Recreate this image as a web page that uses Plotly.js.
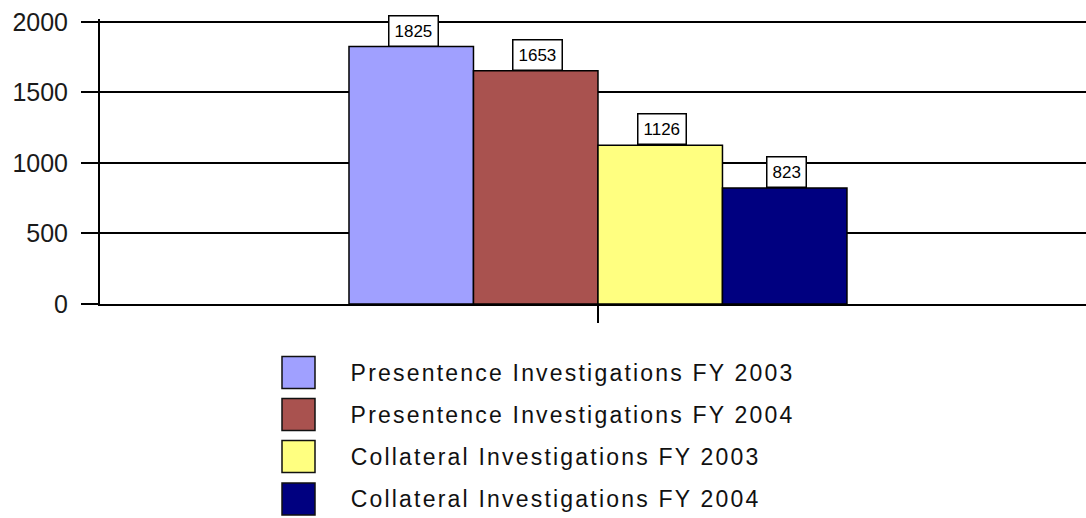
<!DOCTYPE html>
<html>
<head>
<meta charset="utf-8">
<script src="https://cdn.plot.ly/plotly-3.0.1.min.js"></script>
<style>
  html, body { margin: 0; padding: 0; background: #ffffff; overflow: hidden; }
  #chart { width: 1086px; height: 518px; }
</style>
</head>
<body>
<div id="chart"></div>
<script>
// ---- data ----
const categories = ["Investigations"];
const seriesNames = [
  "Presentence Investigations FY 2003",
  "Presentence Investigations FY 2004",
  "Collateral Investigations FY 2003",
  "Collateral Investigations FY 2004"
];
const seriesValues = [1825, 1653, 1126, 823];
const seriesColors = ["#A0A0FF", "#A9524F", "#FFFF80", "#000080"];
const yTickValues = [0, 500, 1000, 1500, 2000];

// ---- layout constants ----
const W = 1086, H = 518;
const M = { l: 100, r: 0, t: 19, b: 214 };
const plotW = W - M.l - M.r;
const plotH = H - M.t - M.b;
const xRange = [-0.5, 0.49];
const yRange = [0, 2020];
const bargap = 0.5;
const pxPerUnit = plotW / (xRange[1] - xRange[0]);
const barW = (1 - bargap) / seriesValues.length;
const legendLetterSpacing = 2.2;

const FONT = "Liberation Sans, Arial, sans-serif";

const traces = seriesNames.map((name, i) => ({
  type: "bar",
  name: name,
  x: categories,
  y: [seriesValues[i]],
  marker: { color: seriesColors[i], line: { color: "#000000", width: 1.5 } },
  hoverinfo: "none",
  showlegend: false
}));

// value labels above bars
const annotations = seriesValues.map((v, i) => ({
  x: categories[0], y: v, xref: "x", yref: "y",
  xshift: (i - (seriesValues.length - 1) / 2) * barW * pxPerUnit + 2,
  text: String(v),
  showarrow: false,
  yanchor: "bottom",
  font: { family: FONT, size: 17, color: "#000000" },
  bgcolor: "#ffffff",
  bordercolor: "#000000",
  borderwidth: 1.5,
  borderpad: 5
}));
const nValueLabels = annotations.length;

// custom legend below the plot
const shapes = [];
const px2paperX = px => (px - M.l) / plotW;
const px2paperY = py => (H - M.b - py) / plotH;
const legendRowY = [372.5, 414.5, 456.5, 499];
const swX0 = 282, swX1 = 315, swH = 32, textX = 349;
seriesNames.forEach((name, i) => {
  const cy = legendRowY[i];
  shapes.push({
    type: "rect", xref: "paper", yref: "paper",
    x0: px2paperX(swX0), x1: px2paperX(swX1),
    y0: px2paperY(cy + swH / 2), y1: px2paperY(cy - swH / 2),
    fillcolor: seriesColors[i],
    line: { color: "#111111", width: 1.5 }
  });
  annotations.push({
    xref: "paper", yref: "paper",
    x: px2paperX(textX), y: px2paperY(cy),
    xshift: legendLetterSpacing * name.length / 2,
    xanchor: "left", yanchor: "middle",
    text: name, showarrow: false,
    font: { family: FONT, size: 23, color: "#111111" }
  });
});

const layout = {
  width: W, height: H,
  margin: M,
  paper_bgcolor: "#ffffff",
  plot_bgcolor: "#ffffff",
  barmode: "group",
  bargap: bargap,
  bargroupgap: 0,
  showlegend: false,
  font: { family: FONT, color: "#000000" },
  xaxis: {
    type: "category",
    range: xRange,
    showline: true, linecolor: "#000000", linewidth: 2,
    ticks: "outside", ticklen: 17, tickwidth: 1.5, tickcolor: "#000000",
    showticklabels: false,
    showgrid: false, zeroline: false,
    fixedrange: true
  },
  yaxis: {
    range: yRange,
    tickvals: yTickValues,
    ticktext: yTickValues.map(String),
    showline: true, linecolor: "#000000", linewidth: 2,
    ticks: "outside", ticklen: 17, tickwidth: 2, tickcolor: "#000000",
    showgrid: true, gridcolor: "#000000", gridwidth: 2,
    zeroline: false,
    tickfont: { family: FONT, size: 25, color: "#1a1a1a" },
    ticklabelstandoff: 8,
    fixedrange: true
  },
  shapes: shapes,
  annotations: annotations
};

Plotly.newPlot("chart", traces, layout, { displayModeBar: false, staticPlot: true }).then(gd => {
  // the reference legend text is set with wide letter spacing
  gd.querySelectorAll("g.annotation").forEach(g => {
    const idx = Number(g.getAttribute("data-index"));
    if (idx >= nValueLabels) {
      const t = g.querySelector("text");
      if (t) t.style.letterSpacing = legendLetterSpacing + "px";
    }
  });
});
</script>
</body>
</html>
